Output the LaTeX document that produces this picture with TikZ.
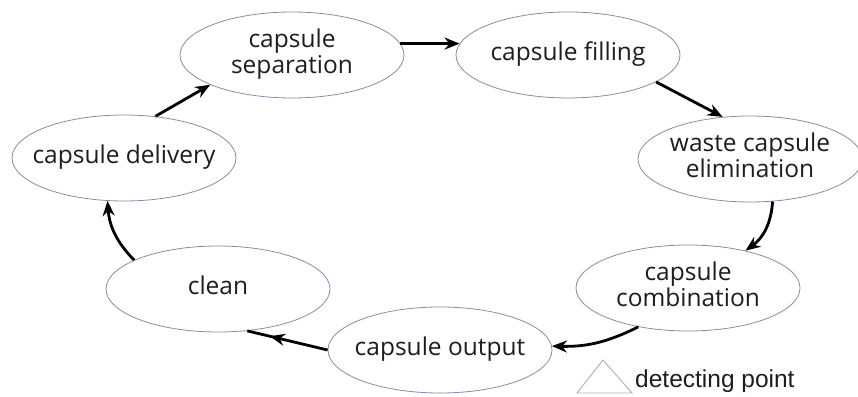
\documentclass[tikz,border=0pt]{standalone}
\usepackage{fontspec}
\usetikzlibrary{shapes.geometric,arrows.meta,decorations.markings}
\newfontfamily\ofont{Open Sans}
\newfontfamily\lfont{Liberation Sans}
\definecolor{ellline}{RGB}{128,144,168}
\definecolor{txt}{RGB}{30,30,30}
\definecolor{trline}{RGB}{165,178,195}
\newcommand\stagetext[1]{\makebox[0pt][c]{\begin{tabular}{@{}c@{}}#1\end{tabular}}}
\begin{document}
\begin{tikzpicture}[x=1pt,y=1pt,
  stage/.style={ellipse,draw=ellline,line width=0.8pt,fill=white,
    minimum width=224pt,minimum height=86pt,inner sep=0pt,
    text=txt,font=\ofont\fontsize{24.5}{26}\selectfont},
  flow/.style={line width=2.8pt,-{Stealth[length=15pt,width=12pt]}},
  midflow/.style={line width=2.8pt,postaction={decorate},
    decoration={markings,mark=at position 0.72 with {\arrow{Stealth[length=15pt,width=12pt]}}}}
]
\useasboundingbox (0,0) rectangle (858,396);
\node[stage] (sep) at (292,341) {\stagetext{capsule\\separation}};
\node[stage] (fill) at (568,341) {\stagetext{capsule filling}};
\node[stage] (waste) at (750,237) {\stagetext{waste capsule\\elimination}};
\node[stage] (deliv) at (124,238) {\stagetext{capsule delivery}};
\node[stage] (clean) at (218,107) {\stagetext{clean}};
\node[stage] (comb) at (688,108) {\stagetext{capsule\\combination}};
\node[stage] (out) at (440,46) {\stagetext{capsule output}};

\draw[flow] (sep.6) -- (fill.174);
\draw[flow] (fill.-17) -- (waste.123);
\draw[flow] (waste.-62) to[bend left=25] (comb.33);
\draw[flow] (comb.218) to[bend left=14] (out.2);
\draw[midflow] (out.180) -- (clean.-55);
\draw[flow] (clean.161) to[bend left=20] (deliv.249);
\draw[flow] (deliv.53) -- (sep.200);

\draw[trline,line width=0.9pt] (577,3) -- (603,36) -- (632,3) -- cycle;
\node[anchor=base west,inner sep=0pt,text=txt,font=\lfont\fontsize{24.5}{27}\selectfont] (legend) at (635,9) {detecting point};
\end{tikzpicture}
\end{document}
